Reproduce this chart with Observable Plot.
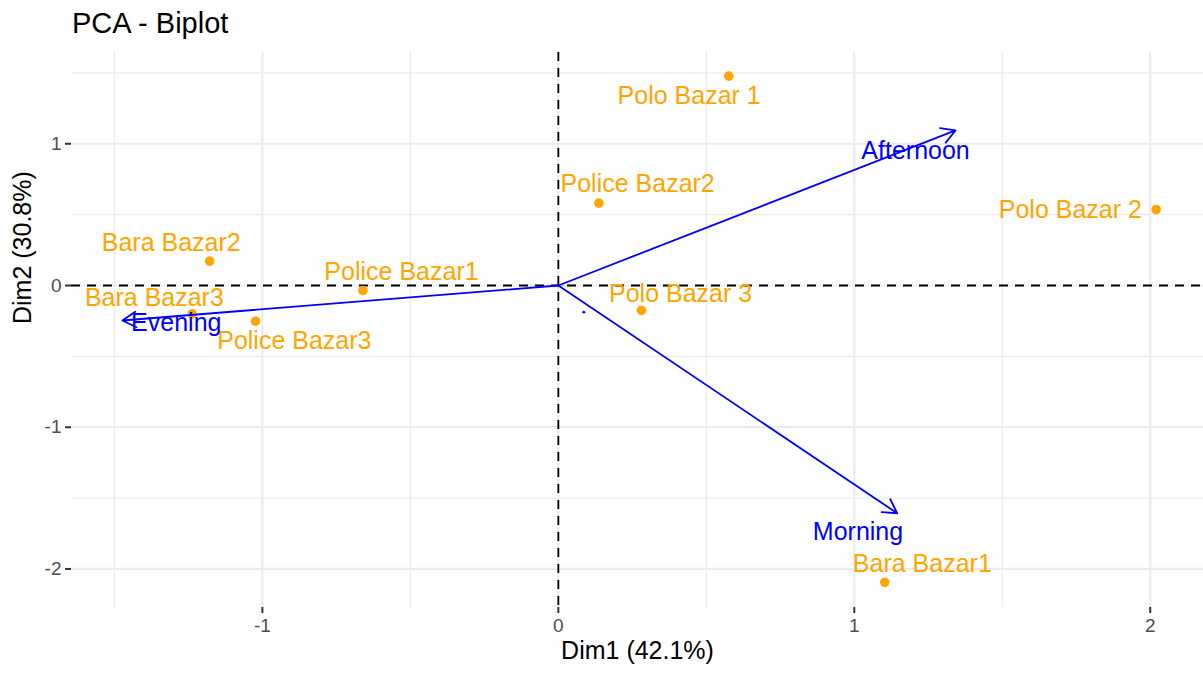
<!DOCTYPE html>
<html>
<head>
<meta charset="utf-8">
<script src="https://cdn.jsdelivr.net/npm/d3@7"></script>
<script src="https://cdn.jsdelivr.net/npm/@observablehq/plot@0.6"></script>
<style>
  html, body { margin: 0; padding: 0; background: #ffffff; }
  body { width: 1203px; height: 673px; overflow: hidden; font-family: "Liberation Sans", Arial, Helvetica, sans-serif; }
  #title { height: 46px; line-height: 46px; font-size: 29px; color: #000; padding-left: 72px; box-sizing: border-box; white-space: nowrap; }
</style>
</head>
<body>
<div id="title">PCA - Biplot</div>
<div id="chart"></div>
<script>
// Individuals (PCA coordinates)
const individuals = ["Polo Bazar 1", "Police Bazar2", "Polo Bazar 2", "Bara Bazar2", "Police Bazar1", "Bara Bazar3", "Police Bazar3", "Polo Bazar 3", "Bara Bazar1"];
const dim1 = [0.576, 0.137, 2.020, -1.178, -0.660, -1.237, -1.023, 0.281, 1.103];
const dim2 = [1.477, 0.581, 0.536, 0.172, -0.035, -0.200, -0.252, -0.176, -2.094];
// Repelled label anchor positions (data units)
const labelDim1 = [0.442, 0.268, 1.730, -1.308, -0.530, -1.365, -0.892, 0.413, 1.230];
const labelDim2 = [1.334, 0.718, 0.536, 0.299, 0.094, -0.087, -0.393, -0.059, -1.964];

// Variables (arrows)
const variables = ["Afternoon", "Morning", "Evening"];
const varDim1 = [1.342, 1.145, -1.473];
const varDim2 = [1.094, -1.607, -0.247];
const varLabelDim1 = [1.207, 1.0125, -1.291];
const varLabelDim2 = [0.948, -1.741, -0.266];

// Mean point of individuals
const meanDim1 = [0.086];
const meanDim2 = [-0.188];

// Axis ticks
const xTicks = [-1, 0, 1, 2];
const yTicks = [-2, -1, 0, 1];
const xMinor = [-1.5, -0.5, 0.5, 1.5];
const yMinor = [-1.5, -0.5, 0.5, 1.5];
const xTitle = "Dim1 (42.1%)";
const yTitle = "Dim2 (30.8%)";

const inds = individuals.map((name, i) => ({name, x: dim1[i], y: dim2[i], lx: labelDim1[i], ly: labelDim2[i]}));
const vars = variables.map((name, i) => ({name, x: varDim1[i], y: varDim2[i], lx: varLabelDim1[i], ly: varLabelDim2[i]}));
const mean = meanDim1.map((x, i) => ({x, y: meanDim2[i]}));

const font = "'Liberation Sans', Arial, Helvetica, sans-serif";

const chart = Plot.plot({
  width: 1203,
  height: 627,
  marginLeft: 71,
  marginRight: 0,
  marginTop: 6,
  marginBottom: 66,
  style: {fontFamily: font, background: "#ffffff", overflow: "visible"},
  x: {domain: [-1.645, 2.18], axis: null},
  y: {domain: [-2.272, 1.644], axis: null},
  marks: [
    Plot.ruleX(xMinor, {stroke: "#ebebeb", strokeWidth: 1.2}),
    Plot.ruleY(yMinor, {stroke: "#ebebeb", strokeWidth: 1.2}),
    Plot.ruleX(xTicks, {stroke: "#ebebeb", strokeWidth: 2.2}),
    Plot.ruleY(yTicks, {stroke: "#ebebeb", strokeWidth: 2.2}),
    Plot.axisX(xTicks, {anchor: "bottom", tickSize: 6, tickPadding: 5, fontSize: 19, fill: "#4d4d4d", stroke: "#333333", strokeWidth: 2, label: null, tickFormat: d => d < 0 ? "-" + Math.abs(d) : String(d)}),
    Plot.axisY(yTicks, {anchor: "left", tickSize: 6, tickPadding: 4, fontSize: 19, fill: "#4d4d4d", stroke: "#333333", strokeWidth: 2, label: null, tickFormat: d => d < 0 ? "-" + Math.abs(d) : String(d)}),
    Plot.ruleX([0], {stroke: "#000000", strokeWidth: 1.8, strokeDasharray: "9,7"}),
    Plot.ruleY([0], {stroke: "#000000", strokeWidth: 1.8, strokeDasharray: "9,7"}),
    Plot.dot(inds, {x: "x", y: "y", r: 4.8, fill: "orange", stroke: null}),
    Plot.text(inds, {x: "lx", y: "ly", text: "name", fill: "orange", fontSize: 25}),
    Plot.arrow(vars, {x1: () => 0, y1: () => 0, x2: "x", y2: "y", stroke: "blue", strokeWidth: 1.8, headLength: 13}),
    Plot.dot(mean, {x: "x", y: "y", r: 1.4, fill: "blue", stroke: null}),
    Plot.text(vars, {x: "lx", y: "ly", text: "name", fill: "blue", fontSize: 25}),
    Plot.text([xTitle], {text: d => d, frameAnchor: "bottom", dy: 51, fontSize: 25, fill: "#000"}),
    Plot.text([yTitle], {text: d => d, frameAnchor: "left", dx: -49, dy: -6, rotate: -90, fontSize: 25, fill: "#000"})
  ]
});
document.getElementById("chart").appendChild(chart);
</script>
</body>
</html>
